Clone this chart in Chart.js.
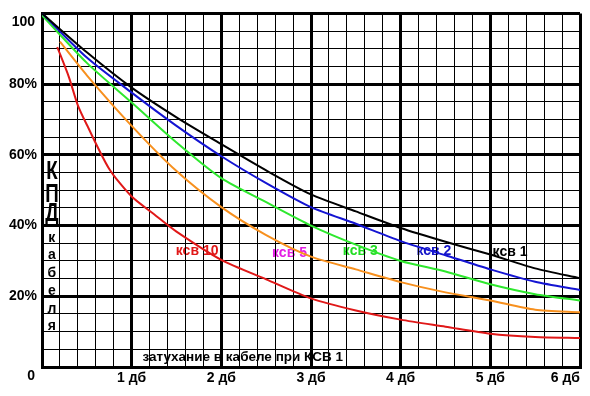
<!DOCTYPE html>
<html>
<head>
<meta charset="utf-8">
<script src="https://cdn.jsdelivr.net/npm/chart.js@4.4.1/dist/chart.umd.min.js"></script>
<style>
    html, body { margin: 0; padding: 0; background: #fff; }
    canvas { display: block; }
</style>
</head>
<body>
<canvas id="kpdChart" width="590" height="396"></canvas>
<script>
// КПД кабеля в зависимости от затухания (дБ) при разных КСВ
const ksv1Db   = [0, 0.5, 1, 1.5, 2, 2.5, 3, 3.5, 4, 4.5, 5, 5.5, 6];
const ksv1Eff  = [100, 89, 79, 70.6, 63, 55.6, 48.8, 44, 39.3, 35.4, 31.8, 27.9, 25.1];

const ksv2Db   = [0, 0.5, 1, 1.5, 2, 2.5, 3, 3.5, 4, 4.5, 5, 5.5, 6];
const ksv2Eff  = [100, 87.5, 77.6, 68.2, 59.6, 52, 45.2, 40.5, 35.6, 31.6, 27.6, 24.1, 21.8];

const ksv3Db   = [0, 0.5, 1, 1.5, 2, 2.5, 3, 3.5, 4, 4.5, 5, 5.5, 6];
const ksv3Eff  = [99.5, 86, 74.8, 63.5, 53.4, 46.6, 40, 34.6, 30, 27, 23.4, 20.6, 18.8];

const ksv5Db   = [0.2, 0.5, 1, 1.5, 2, 2.5, 3, 3.5, 4, 4.5, 5, 5.5, 6];
const ksv5Eff  = [92, 82.5, 68.2, 55.4, 45.2, 37.3, 31.2, 27.6, 24, 21.1, 18.8, 16.2, 15.5];

const ksv10Db  = [0.17, 0.3, 0.4, 0.5, 0.75, 1, 1.25, 1.5, 2, 2.5, 3, 3.5, 4, 4.5, 5, 5.5, 6];
const ksv10Eff = [90.5, 82, 74, 68.5, 56, 48.2, 43.2, 38.3, 30.3, 24.8, 19.4, 16, 13.4, 11.4, 9.4, 8.5, 8.2];

const seriesNames = ['ксв 1', 'ксв 2', 'ксв 3', 'ксв 5', 'ксв 10'];
const lineColors  = ['#000000', '#1414d2', '#2ee82e', '#f7901e', '#e01818'];
const labelColors = ['#000000', '#1414c8', '#22dd22', '#e41ee4', '#e01818'];

const yTickLabels = { 20: '20%', 40: '40%', 60: '60%', 80: '80%' };
const bottomNote = 'затухание в кабеле при КСВ 1';
const bigLetters = ['К', 'П', 'Д'];
const smallLetters = ['к', 'а', 'б', 'е', 'л', 'я'];

function toPoints(xs, ys) {
    return xs.map((v, i) => ({ x: v, y: ys[i] }));
}

function isWhole(v) {
    return Math.abs(v - Math.round(v)) < 1e-6;
}

const seriesData = [
    toPoints(ksv1Db, ksv1Eff),
    toPoints(ksv2Db, ksv2Eff),
    toPoints(ksv3Db, ksv3Eff),
    toPoints(ksv5Db, ksv5Eff),
    toPoints(ksv10Db, ksv10Eff)
];

// где подписаны кривые (дБ, %)
const seriesLabelAt = [[5.22, 32.4], [4.37, 32.7], [3.55, 32.7], [2.76, 32.1], [1.73, 32.7]];

const textLayer = {
    id: 'textLayer',
    beforeDraw(chart) {
        const { ctx, scales: { x, y }, chartArea } = chart;
        ctx.save();
        ctx.textBaseline = 'middle';

        // подписи кривых
        ctx.textAlign = 'center';
        ctx.font = 'bold 14px "Liberation Sans", Arial, sans-serif';
        seriesNames.forEach((name, i) => {
            const [dx, dy] = seriesLabelAt[i];
            ctx.fillStyle = labelColors[i];
            ctx.fillText(name, x.getPixelForValue(dx), y.getPixelForValue(dy));
        });

        // КПД кабеля
        ctx.fillStyle = '#000';
        const cx = x.getPixelForValue(0.11);
        ctx.font = 'bold 25px "Liberation Sans", Arial, sans-serif';
        ctx.textBaseline = 'alphabetic';
        [53.1, 46.6, 41.3].forEach((v, i) => {
            ctx.save();
            ctx.translate(cx, y.getPixelForValue(v));
            ctx.scale(0.75, 1);
            ctx.fillText(bigLetters[i], 0, 0);
            ctx.restore();
        });
        ctx.textBaseline = 'middle';
        ctx.font = 'bold 14px "Liberation Sans", Arial, sans-serif';
        smallLetters.forEach((ch, i) => {
            ctx.fillText(ch, cx, y.getPixelForValue(36.5 - i * 5));
        });

        // надпись внизу
        ctx.textAlign = 'left';
        ctx.font = 'bold 13.5px "Liberation Sans", Arial, sans-serif';
        ctx.fillText(bottomNote, x.getPixelForValue(1.12), y.getPixelForValue(2.7));

        // 100 и 0 у оси
        ctx.textAlign = 'right';
        ctx.font = 'bold 14px "Liberation Sans", Arial, sans-serif';
        ctx.fillText('100', chartArea.left - 7, chartArea.top + 9);
        ctx.fillText('0', chartArea.left - 7, chartArea.bottom + 9);
        ctx.restore();
    }
};

new Chart(document.getElementById('kpdChart'), {
    type: 'line',
    data: {
        datasets: seriesData.map((pts, i) => ({
            label: seriesNames[i],
            data: pts,
            borderColor: lineColors[i],
            borderWidth: 2,
            pointRadius: 0,
            tension: 0.25,
            fill: false
        }))
    },
    options: {
        responsive: false,
        animation: false,
        devicePixelRatio: 1,
        layout: { padding: { left: 0, right: 10, top: 9, bottom: 0 } },
        plugins: { legend: { display: false }, tooltip: { enabled: false } },
        scales: {
            x: {
                type: 'linear',
                min: 0,
                max: 6,
                afterFit: (scale) => { scale.height = 29; },
                border: { display: true, color: '#000', width: 3 },
                grid: {
                    color: '#000',
                    drawTicks: false,
                    lineWidth: (c) => (c.tick && isWhole(c.tick.value) ? 3 : 1)
                },
                ticks: {
                    stepSize: 0.2,
                    autoSkip: false,
                    maxRotation: 0,
                    align: 'inner',
                    padding: 3,
                    color: '#000',
                    font: { family: '"Liberation Sans", Arial, sans-serif', size: 14, weight: 'bold' },
                    callback: (v) => (isWhole(v) && v > 0 ? Math.round(v) + ' дб' : '')
                }
            },
            y: {
                min: 0,
                max: 100,
                afterFit: (scale) => { scale.width = 42; },
                border: { display: true, color: '#000', width: 3 },
                grid: {
                    color: '#000',
                    drawTicks: false,
                    lineWidth: (c) => (c.tick && c.tick.value % 20 === 0 ? 3 : 1)
                },
                ticks: {
                    stepSize: 5,
                    autoSkip: false,
                    padding: 5,
                    color: '#000',
                    font: { family: '"Liberation Sans", Arial, sans-serif', size: 14, weight: 'bold' },
                    callback: (v) => yTickLabels[v] || ''
                }
            }
        }
    },
    plugins: [textLayer]
});
</script>
</body>
</html>
